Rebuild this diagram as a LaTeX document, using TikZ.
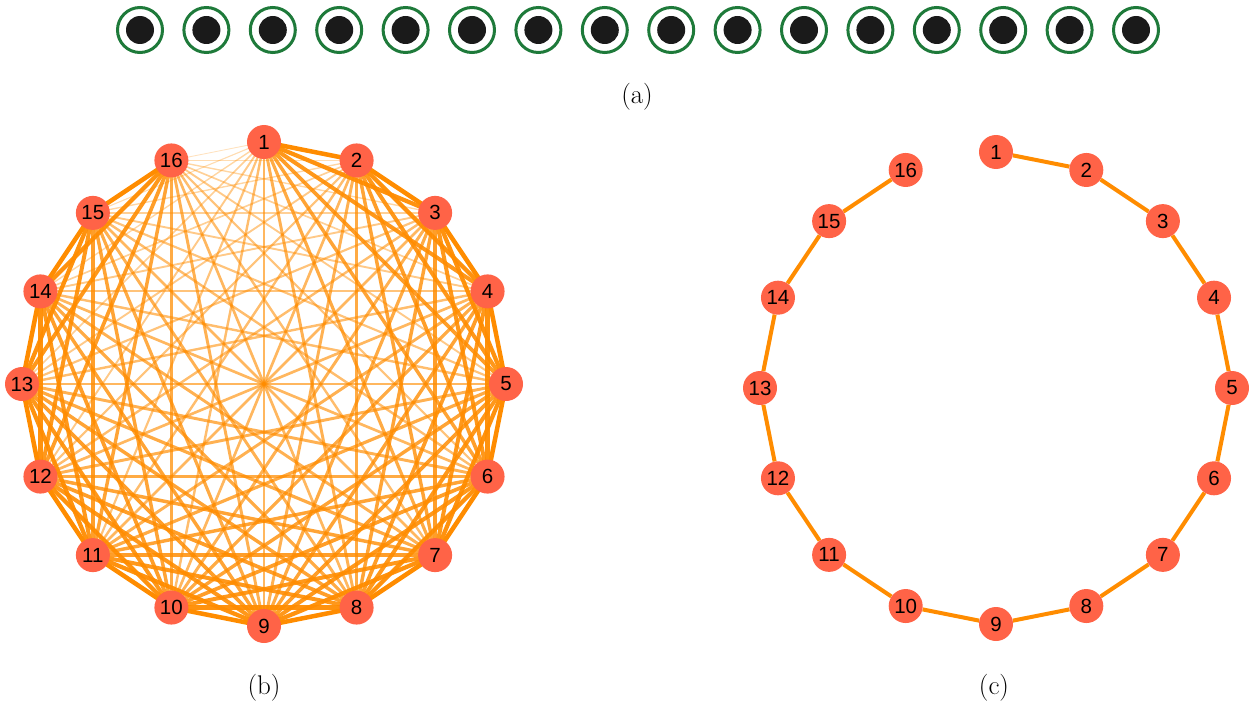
\documentclass[tikz,border=0pt]{standalone}
\usepackage{fontspec}
\newfontfamily\nodefont{Liberation Sans}
\usetikzlibrary{backgrounds}
\definecolor{ringc}{RGB}{30,122,58}
\definecolor{dotc}{RGB}{26,26,26}
\definecolor{vertc}{RGB}{255,99,71}
\definecolor{edgeor}{RGB}{255,140,0}
\begin{document}
\begin{tikzpicture}[x=1pt,y=-1pt,
  ringnode/.style={circle,draw=ringc,line width=3pt,fill=white,minimum size=45pt,inner sep=0pt},
  dotnode/.style={circle,fill=dotc,minimum size=28pt,inner sep=0pt},
  vnode/.style={circle,fill=vertc,minimum size=34pt,inner sep=0pt,font=\nodefont\fontsize{20.5}{20.5}\selectfont},
  caption/.style={font=\fontsize{27}{30}\selectfont},
  pathedge/.style={draw=edgeor,line width=4pt}]
\useasboundingbox (0,0) rectangle (1253,706);
% (a)
\foreach \k in {1,...,16} {
  \node[ringnode] (a\k) at ({140+66.4*(\k-1)},30) {};
  \node[dotnode] (ad\k) at (a\k.center) {};
}
\node[caption] (capa) at (637,97) {(a)};
% (b)
\foreach \k in {1,...,16} {
  \node[vnode] (b\k) at ({264+242*cos(90-22.5*(\k-1))},{384-242*sin(90-22.5*(\k-1))}) {\k};
}
\begin{scope}[on background layer]
\foreach \d in {15,14,...,1} {
  \pgfmathsetmacro\w{0.6+3.9*(16-\d)/15}
  \pgfmathsetmacro\op{0.2+0.8*(16-\d)/15}
  \pgfmathtruncatemacro\m{16-\d}
  \foreach \i in {1,...,\m} {
    \pgfmathtruncatemacro\j{\i+\d}
    \draw[draw=edgeor,line width=\w pt,draw opacity=\op] (b\i.center) -- (b\j.center);
  }
}
\end{scope}
\node[caption] (capb) at (264,688) {(b)};
% (c)
\foreach \k in {1,...,16} {
  \node[vnode] (c\k) at ({996+236*cos(90-22.5*(\k-1))},{388-236*sin(90-22.5*(\k-1))}) {\k};
}
\begin{scope}[on background layer]
\foreach \k in {1,...,15} {
  \pgfmathtruncatemacro\n{\k+1}
  \draw[pathedge] (c\k) -- (c\n);
}
\end{scope}
\node[caption] (capc) at (994,688) {(c)};
\end{tikzpicture}
\end{document}
